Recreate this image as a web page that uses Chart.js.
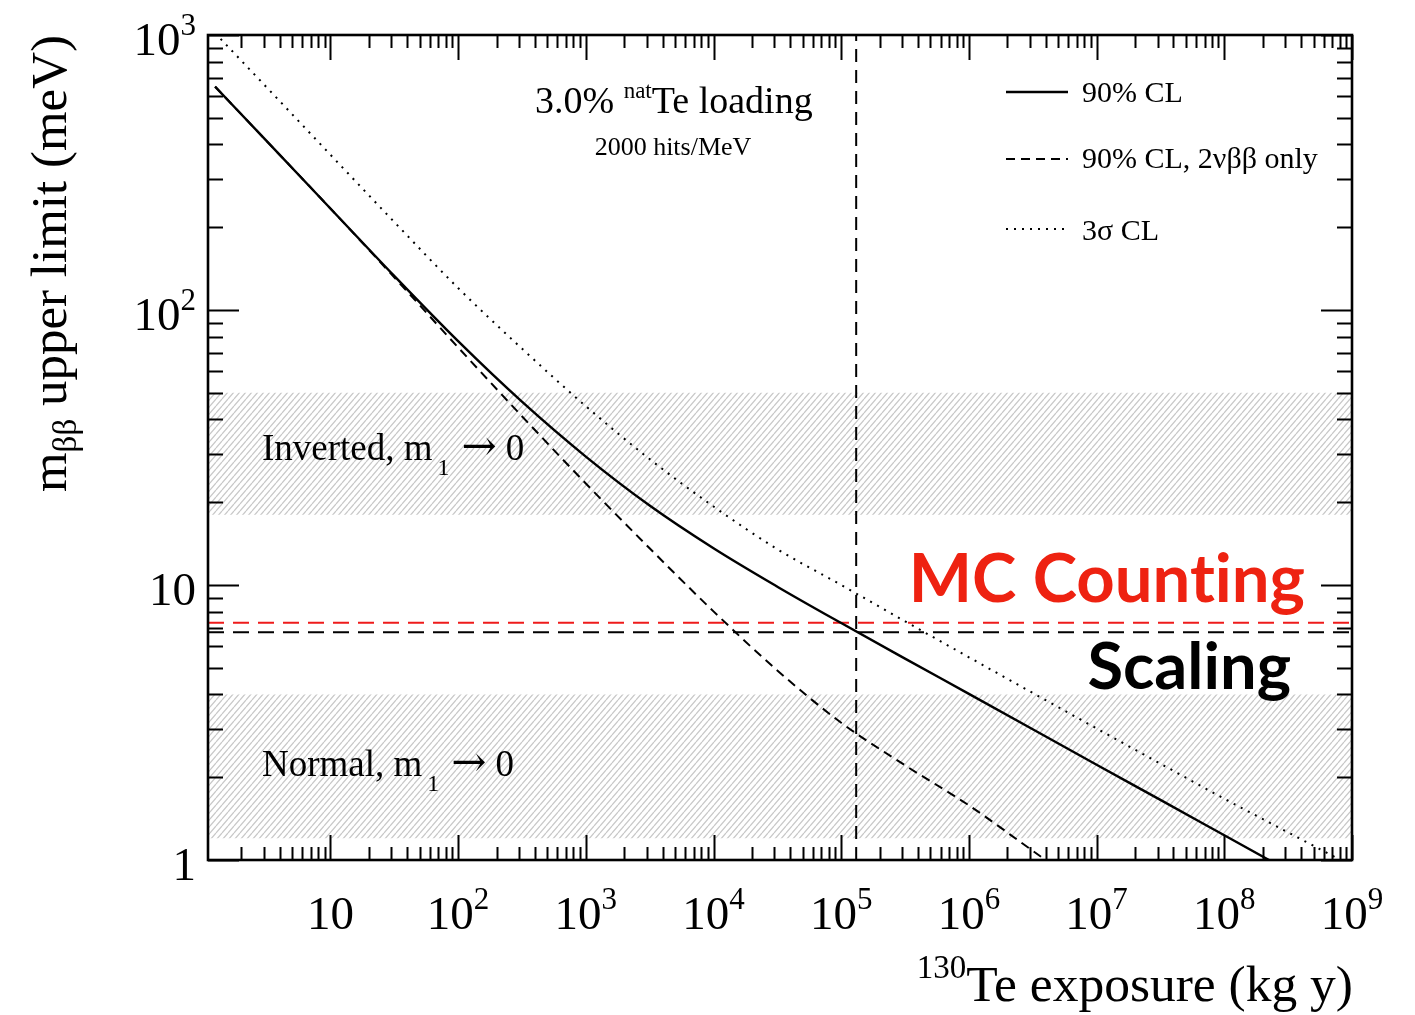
<!DOCTYPE html>
<html><head><meta charset="utf-8">
<script src="https://cdn.jsdelivr.net/npm/chart.js@4.4.1/dist/chart.umd.min.js"></script>
<style>html,body{margin:0;padding:0;background:#fff;}canvas{display:block;}</style>
</head><body>
<canvas id="c" width="1415" height="1015"></canvas>
<script>
// ---- data ----
const exposure90 = [1.25, 3.16, 10, 31.6, 100, 316, 1000, 3160, 1e4, 3.16e4, 1e5, 3.16e5, 1e6, 3.16e6, 1e7, 3.16e7, 1e8, 3.16e8];
const limit90    = [649, 412, 234, 133, 77.0, 46.4, 29.3, 19.45, 13.6, 9.86, 7.27, 5.40, 4.02, 2.99, 2.22, 1.654, 1.23, 0.915];
const exposure2nu = [1.25, 3.16, 10, 31.6, 100, 316, 1000, 3160, 1e4, 3.16e4, 1e5, 3.16e5, 1e6, 3.16e6, 1e7];
const limit2nu    = [649, 412, 234, 131.5, 73.1, 41.1, 23.4, 13.6, 8.02, 4.89, 3.155, 2.21, 1.58, 1.08, 0.74];
const exposure3s = [1.25, 3.16, 10, 31.6, 100, 316, 1000, 3160, 1e4, 3.16e4, 1e5, 3.16e5, 1e6, 3.16e6, 1e7, 3.16e7, 1e8, 3.16e8, 1e9];
const limit3s    = [1016, 646, 367, 209, 120.2, 72.4, 44.7, 28.7, 19.3, 13.5, 10.0, 7.38, 5.46, 4.05, 3.01, 2.24, 1.67, 1.26, 0.95];

const invertedBand = [18, 50];   // meV
const normalBand   = [1.2, 4];   // meV
const exposureMarker = 1.31e5;   // vertical dashed line
const mcCountingLimit = 7.29;    // red dashed
const scalingLimit = 6.73;       // black dashed

const xRange = [1.1, 1e9];
const yRange = [1, 1000];
const xTickValues = [10, 1e2, 1e3, 1e4, 1e5, 1e6, 1e7, 1e8, 1e9];
const xTickLabels = [['10',''],['10','2'],['10','3'],['10','4'],['10','5'],['10','6'],['10','7'],['10','8'],['10','9']];
const yTickValues = [1, 10, 100, 1000];
const yTickLabels = [['1',''],['10',''],['10','2'],['10','3']];

const legendLabels = ['90% CL', '90% CL, 2\u03BD\u03B2\u03B2 only', '3\u03C3 CL'];

// ---- helpers ----
const SERIF = '"Liberation Serif","Times New Roman",serif';
const SANS = 'Lato,"Open Sans",sans-serif';
const ARROWFONT = '"DejaVu Serif",serif';
const pts = (xs, ys) => xs.map((v, i) => ({x: v, y: ys[i]}));

const ctx0 = document.getElementById('c').getContext('2d');
function makeHatch() {
  const c = document.createElement('canvas');
  const w = 6, h = 7;
  c.width = w; c.height = h;
  const g = c.getContext('2d');
  g.fillStyle = '#fff'; g.fillRect(0, 0, w, h);
  g.strokeStyle = '#c8c8c8'; g.lineWidth = 1.25;
  g.beginPath();
  for (const o of [-w, 0, w]) { g.moveTo(o, h); g.lineTo(o + w, 0); }
  g.stroke();
  return ctx0.createPattern(c, 'repeat');
}
const hatch = makeHatch();

function band(vals) {
  return [
    {data: pts(xRange, [vals[1], vals[1]]), fill: '+1', backgroundColor: hatch, borderWidth: 0, pointRadius: 0, showLine: true, order: 10, clip: 0},
    {data: pts(xRange, [vals[0], vals[0]]), fill: false, borderWidth: 0, pointRadius: 0, showLine: true, order: 10, clip: 0}
  ];
}

const common = {pointRadius: 0, showLine: true, fill: false, clip: 0, borderColor: '#000'};
const curve90 = {...common, data: pts(exposure90, limit90), borderWidth: 2.4, cubicInterpolationMode: 'monotone', order: 1, legend: 0};
const curve2nu = {...common, data: pts(exposure2nu, limit2nu), borderWidth: 2, borderDash: [9, 6], cubicInterpolationMode: 'monotone', order: 1, legend: 1};
const curve3s = {...common, data: pts(exposure3s, limit3s), borderWidth: 2, borderDash: [2, 6], cubicInterpolationMode: 'monotone', order: 1, legend: 2};
const vline = {...common, data: pts([exposureMarker, exposureMarker], yRange), borderWidth: 2, borderDash: [13, 8], order: 2};
const redLine = {...common, data: pts(xRange, [mcCountingLimit, mcCountingLimit]), borderColor: '#ee1b1b', borderWidth: 2, borderDash: [16, 9], order: 2};
const blackLine = {...common, data: pts(xRange, [scalingLimit, scalingLimit]), borderWidth: 2, borderDash: [16, 9], order: 2};

function drawRich(ctx, parts, x, y, align) {
  let total = 0;
  const widths = parts.map(p => { ctx.font = p.font; const w = ctx.measureText(p.t).width + (p.pad || 0); total += w; return w; });
  let cx = align === 'center' ? x - total / 2 : align === 'right' ? x - total : x;
  ctx.textAlign = 'left'; ctx.textBaseline = 'alphabetic';
  parts.forEach((p, i) => { ctx.font = p.font; ctx.fillStyle = p.color || '#000'; ctx.fillText(p.t, cx + (p.pad || 0), y + (p.dy || 0)); cx += widths[i]; });
}

const rootStyle = {
  id: 'rootStyle',
  afterDatasetsDraw(chart) {
    const {ctx, chartArea: a, scales: {x, y}} = chart;
    ctx.save();
    ctx.strokeStyle = '#000';
    ctx.lineWidth = 2;
    ctx.beginPath();
    for (let d = 0; d <= 9; d++) for (let k = 1; k <= 9; k++) {
      const v = k * Math.pow(10, d);
      if (v < xRange[0] || v > xRange[1] * 1.0001) continue;
      const px = Math.round(x.getPixelForValue(v)) + 0.5;
      const L = k === 1 ? 25 : 13;
      ctx.moveTo(px, a.bottom); ctx.lineTo(px, a.bottom - L);
      ctx.moveTo(px, a.top); ctx.lineTo(px, a.top + L);
    }
    for (let d = 0; d <= 3; d++) for (let k = 1; k <= 9; k++) {
      const v = k * Math.pow(10, d);
      if (v < yRange[0] || v > yRange[1] * 1.0001) continue;
      const py = Math.round(y.getPixelForValue(v)) + 0.5;
      const L = k === 1 ? 31 : 15;
      ctx.moveTo(a.left, py); ctx.lineTo(a.left + L, py);
      ctx.moveTo(a.right, py); ctx.lineTo(a.right - L, py);
    }
    ctx.stroke();
    ctx.lineWidth = 2.6;
    ctx.strokeRect(a.left, a.top, a.right - a.left, a.bottom - a.top);

    // tick labels
    const big = '47px ' + SERIF, small = '31px ' + SERIF;
    xTickValues.forEach((v, i) => {
      const px = x.getPixelForValue(v);
      const [b, e] = xTickLabels[i];
      drawRich(ctx, [{t: b, font: big}, {t: e, font: small, dy: -20}], px, 929, 'center');
    });
    yTickValues.forEach((v, i) => {
      const py = y.getPixelForValue(v);
      const [b, e] = yTickLabels[i];
      drawRich(ctx, [{t: b, font: big}, {t: e, font: small, dy: -20}], 196, py + 20, 'right');
    });

    // axis titles
    drawRich(ctx, [{t: '130', font: '33px ' + SERIF, dy: -23}, {t: 'Te exposure (kg y)', font: '51.5px ' + SERIF}], 1353, 1001, 'right');
    ctx.save();
    ctx.translate(66, 35);
    ctx.rotate(-Math.PI / 2);
    drawRich(ctx, [{t: 'm', font: '51px ' + SERIF}, {t: '\u03B2\u03B2', font: '33px ' + SERIF, dy: 10}, {t: ' upper limit (meV)', font: '51px ' + SERIF}], 0, 0, 'right');
    ctx.restore();

    // annotations
    drawRich(ctx, [{t: '3.0% ', font: '38px ' + SERIF}, {t: 'nat', font: '23px ' + SERIF, dy: -15}, {t: 'Te loading', font: '38px ' + SERIF}], 535, 113, 'left');
    drawRich(ctx, [{t: '2000 hits/MeV', font: '26px ' + SERIF}], 673, 155, 'center');
    const bandLabel = (name, yb) => drawRich(ctx, [
      {t: name + ', m', font: '37px ' + SERIF}, {t: '1', font: '24px ' + SERIF, dy: 15, pad: 5},
      {t: '\u2192', font: '42px ' + ARROWFONT, dy: 0, pad: 12}, {t: '0', font: '37px ' + SERIF, pad: 9}], 262, yb, 'left');
    bandLabel('Inverted', 460);
    bandLabel('Normal', 776);
    drawRich(ctx, [{t: 'MC Count\u200Cing', font: 'bold 67px ' + SANS, color: '#ee2211'}], 1305, 602, 'right');
    drawRich(ctx, [{t: 'Scaling', font: 'bold 65px ' + SANS, color: '#000'}], 1291, 689, 'right');

    // legend
    const rows = [[92, 102], [159, 168], [229, 240]];
    chart.data.datasets.forEach(ds => {
      if (ds.legend === undefined) return;
      const [ly, ty] = rows[ds.legend];
      ctx.save();
      ctx.strokeStyle = ds.borderColor; ctx.lineWidth = ds.borderWidth;
      ctx.setLineDash(ds.borderDash || []);
      ctx.beginPath(); ctx.moveTo(1006, ly); ctx.lineTo(1068, ly); ctx.stroke();
      ctx.restore();
      drawRich(ctx, [{t: legendLabels[ds.legend], font: '30px ' + SERIF}], 1082, ty, 'left');
    });
    ctx.restore();
  }
};

new Chart(document.getElementById('c'), {
  type: 'scatter',
  data: {datasets: [curve90, curve2nu, curve3s, vline, redLine, blackLine, ...band(invertedBand), ...band(normalBand)]},
  options: {
    responsive: false, animation: false, devicePixelRatio: 1,
    layout: {padding: {left: 208, top: 35, right: 63, bottom: 155}},
    scales: {
      x: {type: 'logarithmic', min: xRange[0], max: xRange[1], display: false},
      y: {type: 'logarithmic', min: yRange[0], max: yRange[1], display: false}
    },
    plugins: {legend: {display: false}, tooltip: {enabled: false}, filler: {drawTime: 'beforeDatasetsDraw'}}
  },
  plugins: [rootStyle]
});
</script>
</body></html>
